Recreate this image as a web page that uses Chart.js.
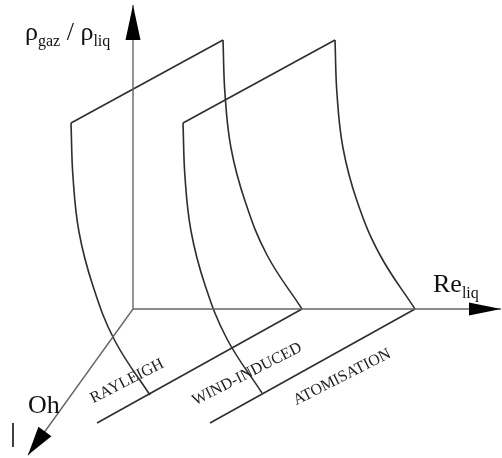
<!DOCTYPE html>
<html>
<head>
<meta charset="utf-8">
<script src="https://cdn.jsdelivr.net/npm/chart.js@4/dist/chart.umd.min.js"></script>
<style>
  html, body { margin: 0; padding: 0; background: #fff; }
  #wrap { width: 502px; height: 458px; }
</style>
</head>
<body>
<div id="wrap"><canvas id="regimes" width="502" height="458"></canvas></div>
<script>
// diagram units: origin where the three axes meet, Re to the right, rho/rho up
const rhoAxis = [{x: 0, y: 0}, {x: 0, y: 304}];
const reAxis  = [{x: 0, y: 0}, {x: 368, y: 0}];
const ohAxis  = [{x: 0, y: 0}, {x: -105, y: -146}];

// Rayleigh sheet
const rayTop    = [{x: -62, y: 186}, {x: 90, y: 269}];
const rayLeftX  = [-62, -60, -54, -40, -18, 17];
const rayLeftY  = [186, 132, 77, 23, -32, -86];
const rayRightX = [90, 92, 98, 112, 134, 169];
const rayRightY = [269, 215, 161, 108, 54, 0];
const rayBase   = [{x: -36, y: -114}, {x: 169, y: 0}];

// wind-induced / atomisation sheet
const windTop    = [{x: 50, y: 186}, {x: 202, y: 269}];
const windLeftX  = [50, 52, 58, 72, 94, 129];
const windLeftY  = [186, 132, 78, 24, -30, -84];
const windRightX = [202, 204, 210, 224, 247, 282];
const windRightY = [269, 215, 161, 108, 54, 0];
const atomBase   = [{x: 77, y: -114}, {x: 282, y: 0}];

// stray mark at the lower left of the scan
const strayMark = [{x: -120, y: -114}, {x: -120, y: -138}];

const regimeNames = ['RAYLEIGH', 'WIND-INDUCED', 'ATOMISATION'];
const regimeAt = [{x: -4, y: -76}, {x: 116, y: -69}, {x: 211, y: -72}];

// axis titles: [text, isSubscript]
const axisTitles = [
  {parts: [['ρ', 0], ['gaz', 1], [' / ', 0], ['ρ', 0], ['liq', 1]], at: {x: -108, y: 269}},
  {parts: [['Re', 0], ['liq', 1]], at: {x: 300, y: 17}},
  {parts: [['Oh', 0]], at: {x: -105, y: -104}}
];

function zip(xs, ys) {
  return xs.map((x, i) => ({x, y: ys[i]}));
}

const sheetColor = '#2e2e2e';
const axisColor = '#666';

function sheet(data) {
  return {data, borderColor: sheetColor, borderWidth: 1.6};
}
function edge(data) {
  return {data, borderColor: sheetColor, borderWidth: 1.6, tension: 0.4};
}
function axis(data, arrow) {
  return {data, borderColor: axisColor, borderWidth: 1.4, arrow};
}

const arrowHeads = {
  id: 'arrowHeads',
  afterDatasetsDraw(chart) {
    const {ctx, scales: {x, y}} = chart;
    ctx.save();
    ctx.fillStyle = '#000';
    chart.data.datasets.forEach(ds => {
      if (!ds.arrow) return;
      const a = ds.data[ds.data.length - 2], b = ds.data[ds.data.length - 1];
      const ax = x.getPixelForValue(a.x), ay = y.getPixelForValue(a.y);
      const bx = x.getPixelForValue(b.x), by = y.getPixelForValue(b.y);
      const len = Math.hypot(bx - ax, by - ay);
      const ux = (bx - ax) / len, uy = (by - ay) / len;
      const [L, W] = ds.arrow;
      const cx = bx - ux * L, cy = by - uy * L;
      ctx.beginPath();
      ctx.moveTo(bx, by);
      ctx.lineTo(cx - uy * W, cy + ux * W);
      ctx.lineTo(cx + uy * W, cy - ux * W);
      ctx.closePath();
      ctx.fill();
    });
    ctx.restore();
  }
};

const diagramText = {
  id: 'diagramText',
  afterDraw(chart) {
    const {ctx, scales: {x, y}} = chart;
    ctx.save();
    ctx.fillStyle = '#111';
    ctx.textBaseline = 'alphabetic';
    ctx.textAlign = 'left';
    axisTitles.forEach(t => {
      let px = x.getPixelForValue(t.at.x);
      const py = y.getPixelForValue(t.at.y);
      t.parts.forEach(([s, sub]) => {
        ctx.font = sub ? '16px "Liberation Serif"' : '26px "Liberation Serif"';
        ctx.fillText(s, px, py + (sub ? 6 : 0));
        px += ctx.measureText(s).width;
      });
    });

    ctx.fillStyle = '#222';
    ctx.font = '16px "Liberation Serif"';
    ctx.textAlign = 'center';
    regimeNames.forEach((name, i) => {
      ctx.save();
      ctx.translate(x.getPixelForValue(regimeAt[i].x), y.getPixelForValue(regimeAt[i].y));
      ctx.rotate(-27 * Math.PI / 180);
      ctx.fillText(name, 0, 0);
      ctx.restore();
    });
    ctx.restore();
  }
};

new Chart(document.getElementById('regimes'), {
  type: 'scatter',
  data: {
    datasets: [
      axis(rhoAxis, [35, 7.5]),
      axis(reAxis, [32, 6.5]),
      axis(ohAxis, [29, 8]),
      sheet(rayTop),
      edge(zip(rayLeftX, rayLeftY)),
      edge(zip(rayRightX, rayRightY)),
      sheet(rayBase),
      sheet(windTop),
      edge(zip(windLeftX, windLeftY)),
      edge(zip(windRightX, windRightY)),
      sheet(atomBase),
      {data: strayMark, borderColor: '#000', borderWidth: 1.5}
    ]
  },
  options: {
    responsive: false,
    animation: false,
    events: [],
    layout: {padding: 0},
    showLine: true,
    clip: false,
    elements: {point: {radius: 0}},
    plugins: {legend: {display: false}, tooltip: {enabled: false}},
    scales: {
      x: {type: 'linear', min: -133, max: 369, display: false},
      y: {type: 'linear', min: -149, max: 309, display: false}
    }
  },
  plugins: [arrowHeads, diagramText]
});
</script>
</body>
</html>
